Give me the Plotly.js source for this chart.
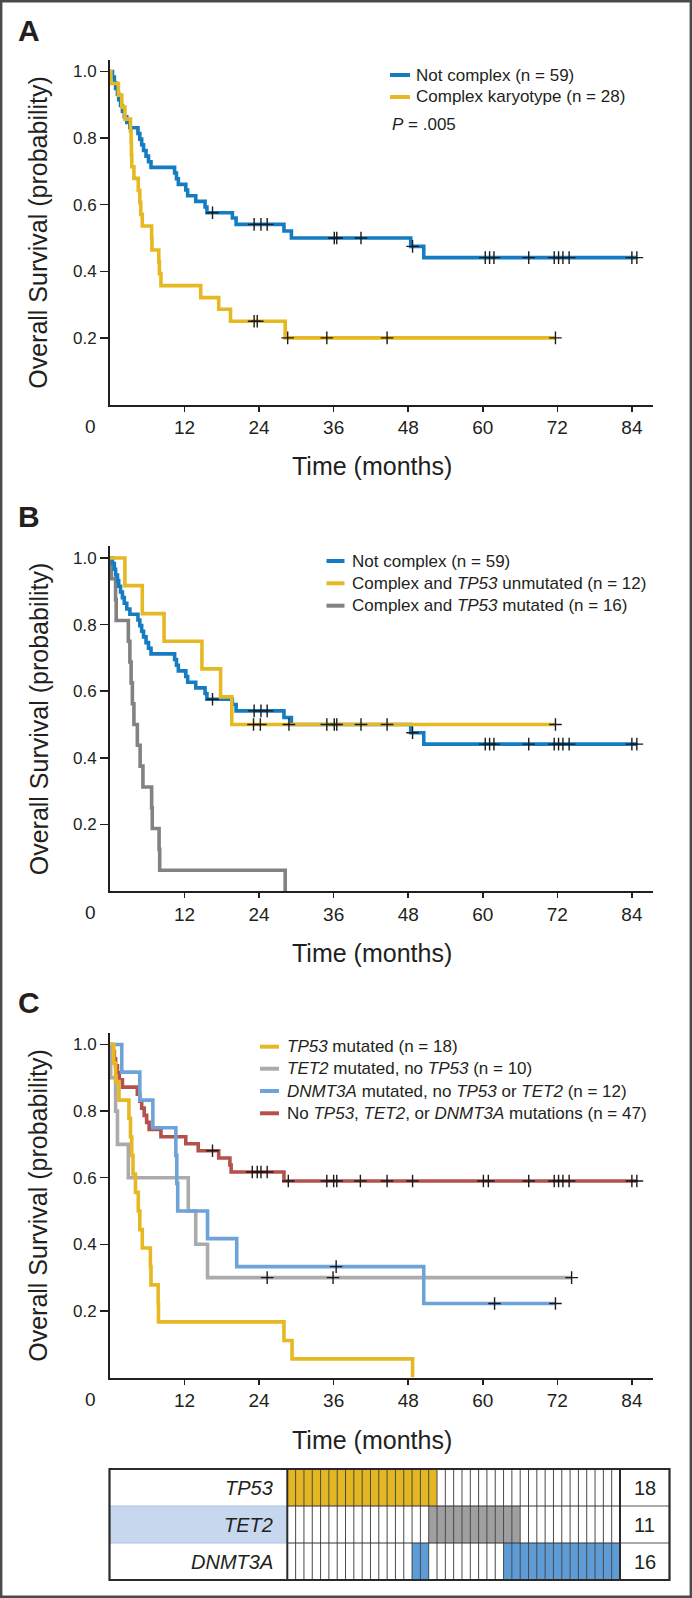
<!DOCTYPE html>
<html><head><meta charset="utf-8">
<script src="https://cdn.plot.ly/plotly-3.0.1.min.js"></script>
<style>html,body{margin:0;padding:0;background:#fff}#chart{width:692px;height:1598px}</style>
</head><body><div id="chart"></div>
<script>
// ---------------- DATA ----------------
const xTickVals = [12, 24, 36, 48, 60, 72, 84];
const yTickVals = [0.2, 0.4, 0.6, 0.8, 1.0];
const yTickText = ['0.2', '0.4', '0.6', '0.8', '1.0'];

// Panel A / B : Not complex (n = 59)
const notComplexT = [0, 0.4, 0.7, 0.9, 1.2, 1.4, 1.7, 2.0, 2.3, 2.7, 3.2, 4.5, 4.8, 5.1, 5.4, 5.8, 6.2, 6.6, 10.4, 10.7, 11.0, 12.2, 12.5, 13.8, 15.3, 15.6, 19.7, 20.3, 28.0, 29.2, 48.4, 50.5, 84.8];
const notComplexS = [1, .983, .966, .949, .932, .915, .898, .881, .864, .847, .831, .814, .797, .780, .763, .746, .729, .712, .695, .678, .661, .644, .627, .610, .593, .576, .560, .541, .521, .500, .475, .441, .441];
const notComplexCens = [16.5, 23.2, 24.3, 25.3, 36.1, 36.5, 40.4, 48.7, 60.4, 61.1, 61.8, 67.4, 71.5, 72.2, 72.9, 73.9, 84.0, 84.8];

// Panel A : Complex karyotype (n = 28)
const complexT = [0, 0.15, 1.35, 1.9, 2.4, 3.3, 3.4, 3.45, 3.5, 3.85, 4.55, 4.8, 4.95, 5.2, 6.7, 6.75, 7.85, 7.95, 8.2, 14.6, 17.5, 19.4, 28.2, 71.7];
const complexS = [1, .964, .929, .893, .857, .821, .786, .750, .714, .679, .643, .607, .571, .536, .500, .464, .429, .393, .357, .321, .286, .250, .200, .200];
const complexCens = [23.2, 23.7, 28.6, 34.9, 44.6, 71.7];

// Panel B : Complex and TP53 unmutated (n = 12)
const cxUnmutT = [0, 2.4, 5.2, 8.7, 14.8, 17.8, 19.6, 71.7];
const cxUnmutS = [1, .917, .833, .750, .667, .583, .500, .500];
const cxUnmutCens = [23.1, 24.2, 28.8, 34.9, 44.6, 71.7];

// Panel B : Complex and TP53 mutated (n = 16)
const cxMutT = [0, 0.2, 0.9, 1.0, 2.95, 3.2, 3.4, 3.6, 3.85, 4.4, 4.85, 5.3, 6.7, 6.8, 7.9, 8.0, 28.2];
const cxMutS = [1, .9375, .875, .8125, .75, .6875, .625, .5625, .5, .4375, .375, .3125, .25, .1875, .125, .0625, 0];

// Panel C : TP53 mutated (n = 18)
const tp53T = [0, 0.6, 0.9, 1.45, 3.05, 3.3, 3.5, 3.7, 4.1, 4.55, 4.8, 5.2, 6.5, 6.6, 7.75, 7.8, 28.0, 29.3, 48.7];
const tp53S = [1, .944, .889, .833, .778, .722, .667, .611, .556, .500, .444, .389, .333, .278, .222, .167, .111, .056, 0];

// Panel C : TET2 mutated, no TP53 (n = 10)
const tet2T = [0, 0.1, 0.9, 1.2, 2.95, 12.6, 13.8, 15.7, 74.3];
const tet2S = [1, .9, .8, .7, .6, .5, .4, .3, .3];
const tet2Cens = [25.3, 35.9, 74.3];

// Panel C : DNMT3A mutated, no TP53 or TET2 (n = 12)
const dnmtT = [0, 1.9, 4.8, 6.9, 10.6, 10.75, 10.9, 15.7, 20.4, 50.5, 71.7];
const dnmtS = [1, .917, .833, .750, .667, .583, .500, .417, .333, .222, .222];
const dnmtCens = [36.4, 61.9, 71.7];

// Panel C : No TP53, TET2, or DNMT3A mutations (n = 47)
const noneT = [0, 0.4, 0.7, 0.9, 1.2, 1.5, 2.0, 4.4, 4.8, 5.1, 5.5, 5.9, 6.3, 8.2, 12.2, 14.2, 17.5, 19.3, 19.5, 28.0, 84.8];
const noneS = [1, .979, .957, .936, .915, .894, .872, .851, .830, .809, .787, .766, .745, .723, .702, .681, .659, .638, .617, .590, .590];
const noneCens = [16.5, 22.9, 23.7, 24.3, 25.3, 28.7, 34.9, 36.0, 36.5, 40.3, 44.6, 48.7, 60.1, 60.9, 67.4, 71.5, 72.2, 72.9, 73.9, 84.0, 84.8];

// Mutation table (40 patients, columns)
const tableGenes = ['TP53', 'TET2', 'DNMT3A'];
const tableCounts = [18, 11, 16];
const tp53Row   = [1,1,1,1,1,1,1,1,1,1,1,1,1,1,1,1,1,1,0,0,0,0,0,0,0,0,0,0,0,0,0,0,0,0,0,0,0,0,0,0];
const tet2Row   = [0,0,0,0,0,0,0,0,0,0,0,0,0,0,0,0,0,1,1,1,1,1,1,1,1,1,1,1,0,0,0,0,0,0,0,0,0,0,0,0];
const dnmt3aRow = [0,0,0,0,0,0,0,0,0,0,0,0,0,0,0,1,1,0,0,0,0,0,0,0,0,0,1,1,1,1,1,1,1,1,1,1,1,1,1,1];

// ---------------- STYLE / LAYOUT ----------------
const W = 692, H = 1598;
const FONT = 'Liberation Sans, Arial, Helvetica, sans-serif';
const INK = '#231f20';
const BLUE = '#157cc2', YELLOW = '#e6b822', GRAY_B = '#828282';
const GRAY_C = '#ababab', LBLUE = '#6ea3d9', RED = '#b3524d';
const T_YELLOW = '#e4b722', T_GRAY = '#9f9f9f', T_BLUE = '#5e9cd7', T_NAMEBG = '#c6d7ee';

const px = x => x / W;
const py = y => 1 - y / H;
const XL = 110, XR = 653, XMAX = 87.4, UNIT = 333, YMAX = 1.035;
const panelY0 = [404.5, 891, 1377.5];

function stepAt(T, S, t) { let v = S[0]; for (let i = 0; i < T.length; i++) if (T[i] <= t + 1e-9) v = S[i]; return v; }

function curve(T, S, color, k) {
  return {type: 'scatter', mode: 'lines', x: T, y: S, xaxis: 'x' + (k > 1 ? k : ''), yaxis: 'y' + (k > 1 ? k : ''),
    line: {shape: 'hv', color: color, width: 3.6}, showlegend: false, hoverinfo: 'skip'};
}
function cens(T, S, C, k) {
  return {type: 'scatter', mode: 'markers', x: C, y: C.map(t => stepAt(T, S, t)),
    xaxis: 'x' + (k > 1 ? k : ''), yaxis: 'y' + (k > 1 ? k : ''),
    marker: {symbol: 'cross-thin', size: 9, color: '#1a1a1a', line: {width: 1.4, color: '#1a1a1a'}},
    showlegend: false, hoverinfo: 'skip'};
}

const traces = [
  curve(notComplexT, notComplexS, BLUE, 1),
  curve(complexT, complexS, YELLOW, 1),
  cens(notComplexT, notComplexS, notComplexCens, 1),
  cens(complexT, complexS, complexCens, 1),

  curve(cxMutT, cxMutS, GRAY_B, 2),
  curve(notComplexT, notComplexS, BLUE, 2),
  curve(cxUnmutT, cxUnmutS, YELLOW, 2),
  cens(notComplexT, notComplexS, notComplexCens, 2),
  cens(cxUnmutT, cxUnmutS, cxUnmutCens, 2),

  curve(noneT, noneS, RED, 3),
  curve(tet2T, tet2S, GRAY_C, 3),
  curve(dnmtT, dnmtS, LBLUE, 3),
  curve(tp53T, tp53S, YELLOW, 3),
  cens(noneT, noneS, noneCens, 3),
  cens(tet2T, tet2S, tet2Cens, 3),
  cens(dnmtT, dnmtS, dnmtCens, 3)
];

// table heatmaps
const cellX = tp53Row.map((_, i) => i + 0.5);
[[tp53Row, 2, T_YELLOW], [tet2Row, 1, T_GRAY], [dnmt3aRow, 0, T_BLUE]].forEach(([row, yv, col]) => {
  traces.push({type: 'heatmap', x: cellX, y: [yv], z: [row], xaxis: 'x4', yaxis: 'y4',
    zmin: 0, zmax: 1, colorscale: [[0, '#ffffff'], [1, col]], showscale: false, hoverinfo: 'skip'});
});

const layout = {
  width: W, height: H, margin: {l: 0, r: 0, t: 0, b: 0},
  paper_bgcolor: '#ffffff', plot_bgcolor: '#ffffff',
  font: {family: FONT, color: INK},
  showlegend: false, annotations: [], shapes: []
};

panelY0.forEach((y0, i) => {
  const k = i + 1, sfx = k > 1 ? k : '';
  layout['xaxis' + sfx] = {domain: [px(XL), px(XR)], range: [0, XMAX], anchor: 'y' + sfx,
    showline: true, linecolor: INK, linewidth: 2, ticks: 'outside', ticklen: 5, tickwidth: 1.5, tickcolor: INK,
    tickvals: xTickVals, ticktext: xTickVals.map(String), tickfont: {size: 19, color: INK, family: FONT},
    showgrid: false, zeroline: false, fixedrange: true};
  layout['yaxis' + sfx] = {domain: [py(y0), py(y0 - YMAX * UNIT)], range: [0, YMAX], anchor: 'x' + sfx,
    showline: true, linecolor: INK, linewidth: 2, ticks: 'outside', ticklen: 8, tickwidth: 1.5, tickcolor: INK,
    tickvals: yTickVals, ticktext: yTickText, tickfont: {size: 17, color: INK, family: FONT},
    showgrid: false, zeroline: false, fixedrange: true};
  // "0" label at origin
  layout.annotations.push({xref: 'paper', yref: 'paper', x: px(90.5), y: py(y0 + 21.5), text: '0',
    showarrow: false, xanchor: 'center', yanchor: 'middle', font: {size: 19, color: INK}});
  // axis titles
  layout.annotations.push({xref: 'paper', yref: 'paper', x: px(372), y: py(y0 + 62), text: 'Time (months)',
    showarrow: false, xanchor: 'center', yanchor: 'middle', font: {size: 25, color: INK}});
  layout.annotations.push({xref: 'paper', yref: 'paper', x: px(38.6), y: py(y0 - YMAX * UNIT / 2), text: 'Overall Survival (probability)',
    textangle: -90, showarrow: false, xanchor: 'center', yanchor: 'middle', font: {size: 25, color: INK}});
});

// panel letters
[['A', 31], ['B', 516.5], ['C', 1002]].forEach(([t, y]) => {
  layout.annotations.push({xref: 'paper', yref: 'paper', x: px(16), y: py(y), text: '<b>' + t + '</b>',
    showarrow: false, xanchor: 'left', yanchor: 'middle', font: {size: 30, color: INK}});
});

// legends
function legend(items, xs0, xs1, xt) {
  items.forEach(([color, text, y]) => {
    if (color) layout.shapes.push({type: 'line', xref: 'paper', yref: 'paper', x0: px(xs0), x1: px(xs1), y0: py(y), y1: py(y),
      line: {color: color, width: 4}});
    layout.annotations.push({xref: 'paper', yref: 'paper', x: px(color ? xt : xs0), y: py(y), text: text, showarrow: false,
      xanchor: 'left', yanchor: 'middle', font: {size: 17, color: INK}});
  });
}
legend([[BLUE, 'Not complex (n = 59)', 75], [YELLOW, 'Complex karyotype (n = 28)', 97], [null, '<i>P</i> = .005', 124]], 390, 410, 414);
legend([[BLUE, 'Not complex (n = 59)', 561], [YELLOW, 'Complex and <i>TP53</i> unmutated (n = 12)', 583.3],
        [GRAY_B, 'Complex and <i>TP53</i> mutated (n = 16)', 605.7]], 326.5, 344.5, 350);
legend([[YELLOW, '<i>TP53</i> mutated (n = 18)', 1046.7], [GRAY_C, '<i>TET2</i> mutated, no <i>TP53</i> (n = 10)', 1068.7],
        [LBLUE, '<i>DNMT3A</i> mutated, no <i>TP53</i> or <i>TET2</i> (n = 12)', 1091],
        [RED, 'No <i>TP53</i>, <i>TET2</i>, or <i>DNMT3A</i> mutations (n = 47)', 1113.3]], 260, 279, 285);

// ---------------- TABLE ----------------
const TL = 109.5, TR = 669.5, TT = 1469, TB = 1580, NC = 287.3, CC = 620;
const rowH = (TB - TT) / 3;
layout.xaxis4 = {domain: [px(NC), px(CC)], range: [0, tp53Row.length], anchor: 'y4', visible: false, fixedrange: true};
layout.yaxis4 = {domain: [py(TB), py(TT)], range: [-0.5, 2.5], anchor: 'x4', visible: false, fixedrange: true};

// TET2 name background
layout.shapes.push({type: 'rect', xref: 'paper', yref: 'paper', x0: px(TL), x1: px(NC), y0: py(TT + 2 * rowH), y1: py(TT + rowH),
  fillcolor: T_NAMEBG, line: {color: '#a9c3e6', width: 1}, layer: 'below'});
// cell grid
for (let i = 1; i < tp53Row.length; i++) {
  layout.shapes.push({type: 'line', xref: 'x4', yref: 'y4', x0: i, x1: i, y0: -0.5, y1: 2.5, line: {color: '#4a4a4a', width: 1}});
}
[0.5, 1.5].forEach(v => {
  layout.shapes.push({type: 'line', xref: 'x4', yref: 'y4', x0: 0, x1: tp53Row.length, y0: v, y1: v, line: {color: '#333', width: 1}});
});
[1, 2].forEach(r => {
  layout.shapes.push({type: 'line', xref: 'paper', yref: 'paper', x0: px(CC), x1: px(TR), y0: py(TT + r * rowH), y1: py(TT + r * rowH),
    line: {color: '#555', width: 1}});
});
// separators & border
[NC, CC].forEach(x => layout.shapes.push({type: 'line', xref: 'paper', yref: 'paper', x0: px(x), x1: px(x), y0: py(TT), y1: py(TB),
  line: {color: '#2a2a2a', width: 2}}));
layout.shapes.push({type: 'rect', xref: 'paper', yref: 'paper', x0: px(TL), x1: px(TR), y0: py(TB), y1: py(TT),
  line: {color: '#2a2a2a', width: 2.2}});
tableGenes.forEach((g, r) => {
  const yc = TT + (r + 0.5) * rowH;
  layout.annotations.push({xref: 'paper', yref: 'paper', x: px(275), y: py(yc), text: '<i>' + g + '</i>', showarrow: false,
    xanchor: 'right', yanchor: 'middle', font: {size: 20, color: INK}});
  layout.annotations.push({xref: 'paper', yref: 'paper', x: px((CC + TR) / 2), y: py(yc), text: String(tableCounts[r]), showarrow: false,
    xanchor: 'center', yanchor: 'middle', font: {size: 20, color: INK}});
});

// outer frame
layout.shapes.push({type: 'rect', xref: 'paper', yref: 'paper', x0: px(1.2), x1: px(W - 1.2), y0: py(H - 1.2), y1: py(1.2),
  line: {color: '#4a4a4a', width: 2.4}});

Plotly.newPlot('chart', traces, layout, {displayModeBar: false, staticPlot: true});
</script></body></html>
